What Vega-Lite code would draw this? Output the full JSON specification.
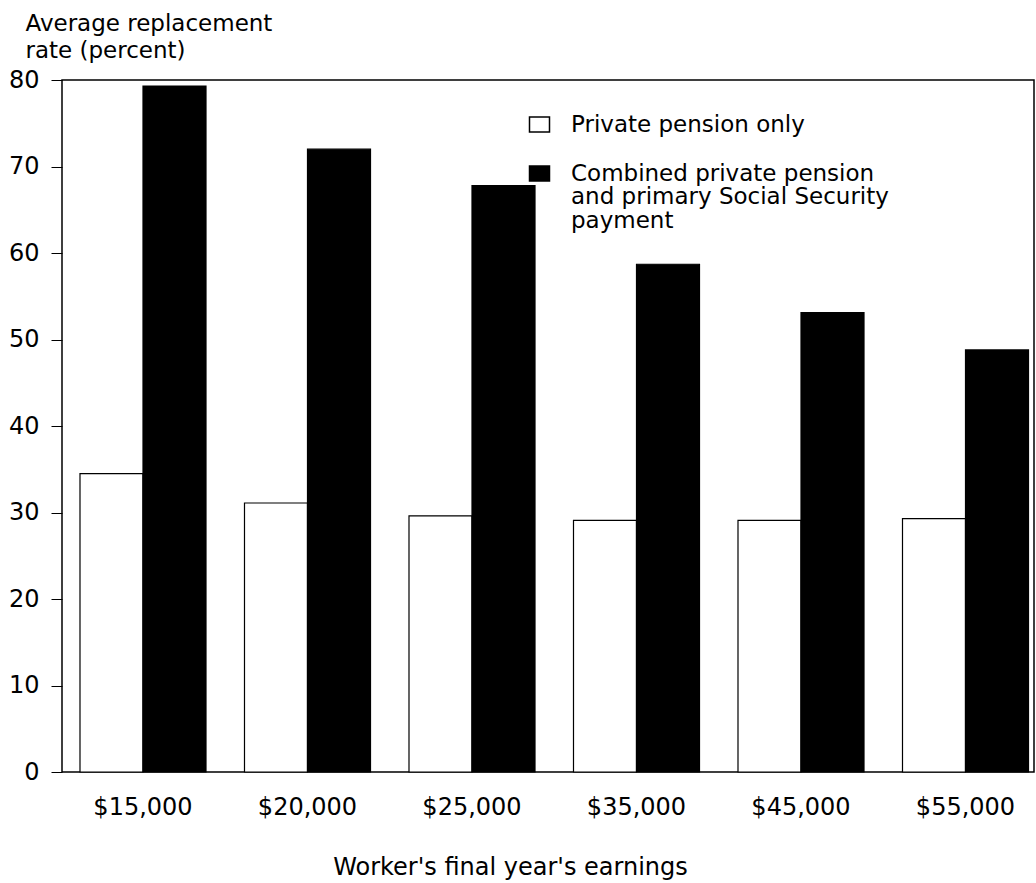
{
  "$schema": "https://vega.github.io/schema/vega-lite/v6.json",
  "autosize": "none",
  "width": 972,
  "height": 692,
  "padding": {"left": 62, "top": 80, "right": 2, "bottom": 111},
  "background": "white",
  "config": {
    "font": "DejaVu Sans",
    "view": {"stroke": "black", "strokeWidth": 1.5},
    "axis": {"labelColor": "black", "titleColor": "black", "labelFont": "DejaVu Sans", "titleFont": "DejaVu Sans", "titleFontWeight": "normal", "grid": false}
  },
  "data": {
    "values": [
      {"earnings": "$15,000", "series": "Private pension only", "rate": 34.5},
      {"earnings": "$15,000", "series": "Combined private pension and primary Social Security payment", "rate": 79.3},
      {"earnings": "$20,000", "series": "Private pension only", "rate": 31.1},
      {"earnings": "$20,000", "series": "Combined private pension and primary Social Security payment", "rate": 72.0},
      {"earnings": "$25,000", "series": "Private pension only", "rate": 29.6},
      {"earnings": "$25,000", "series": "Combined private pension and primary Social Security payment", "rate": 67.8},
      {"earnings": "$35,000", "series": "Private pension only", "rate": 29.1},
      {"earnings": "$35,000", "series": "Combined private pension and primary Social Security payment", "rate": 58.7},
      {"earnings": "$45,000", "series": "Private pension only", "rate": 29.1},
      {"earnings": "$45,000", "series": "Combined private pension and primary Social Security payment", "rate": 53.1},
      {"earnings": "$55,000", "series": "Private pension only", "rate": 29.3},
      {"earnings": "$55,000", "series": "Combined private pension and primary Social Security payment", "rate": 48.8}
    ]
  },
  "mark": {"type": "bar", "stroke": "black", "strokeWidth": 1.2},
  "encoding": {
    "x": {
      "field": "earnings",
      "type": "nominal",
      "sort": ["$15,000", "$20,000", "$25,000", "$35,000", "$45,000", "$55,000"],
      "scale": {"paddingInner": 0.234, "paddingOuter": 0.0714, "align": 0.766},
      "axis": {
        "labelAngle": 0,
        "ticks": false,
        "domain": false,
        "labelFontSize": 24,
        "labelPadding": 23,
        "title": "Worker's final year's earnings",
        "titleFontSize": 24,
        "titleX": 448,
        "titleY": 83,
        "titleAlign": "center",
        "titleBaseline": "top",
        "titleAnchor": null
      }
    },
    "xOffset": {
      "field": "series",
      "type": "nominal",
      "sort": ["Private pension only", "Combined private pension and primary Social Security payment"],
      "scale": {"paddingInner": 0, "paddingOuter": 0}
    },
    "y": {
      "field": "rate",
      "type": "quantitative",
      "scale": {"domain": [0, 80], "nice": false},
      "axis": {
        "values": [0, 10, 20, 30, 40, 50, 60, 70, 80],
        "tickSize": 11,
        "tickColor": "black",
        "tickWidth": 1,
        "domain": false,
        "labelFontSize": 24,
        "labelPadding": 12,
        "title": ["Average replacement", "rate (percent)"],
        "titleFontSize": 23,
        "titleAngle": 0,
        "titleAlign": "left",
        "titleBaseline": "alphabetic",
        "titleX": -37,
        "titleY": -50,
        "titleLineHeight": 27,
        "encode": {"title": {"update": {"lineHeight": {"value": 27}}}}
      }
    },
    "fill": {
      "field": "series",
      "type": "nominal",
      "sort": ["Private pension only", "Combined private pension and primary Social Security payment"],
      "scale": {"domain": ["Private pension only", "Combined private pension and primary Social Security payment"], "range": ["white", "black"]},
      "legend": {
        "title": null,
        "orient": "none",
        "legendX": 466,
        "legendY": 33,
        "padding": 0,
        "symbolType": "M-1,-0.75H1V0.75H-1Z",
        "symbolSize": 400,
        "symbolStrokeColor": "black",
        "symbolStrokeWidth": 1.5,
        "labelFont": "DejaVu Sans",
        "labelFontSize": 23,
        "labelColor": "black",
        "labelLimit": 500,
        "labelOffset": 20,
        "labelBaseline": "top",
        "rowPadding": 25,
        "labelExpr": "datum.label == 'Private pension only' ? datum.label : ['Combined private pension', 'and primary Social Security', 'payment']",
        "encode": {"labels": {"update": {"dy": {"value": -11}, "lineHeight": {"value": 23.5}}}}
      }
    }
  }
}
